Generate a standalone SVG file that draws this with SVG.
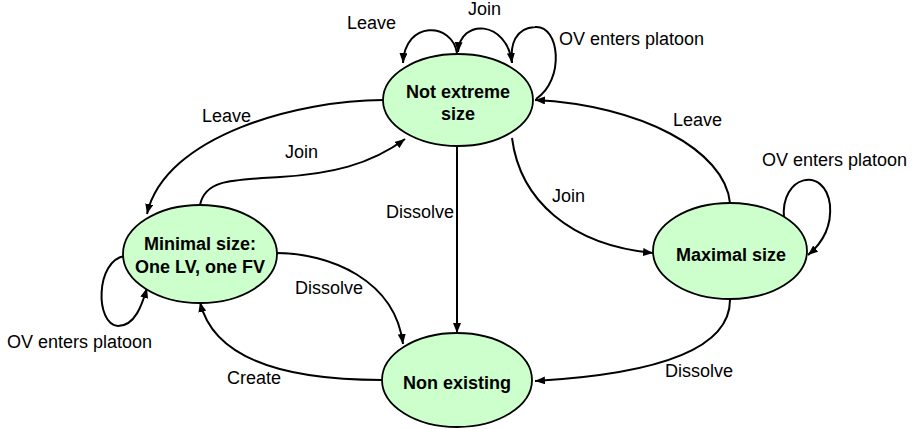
<svg xmlns="http://www.w3.org/2000/svg" width="915" height="429" viewBox="0 0 915 429">
<style>
.node{fill:#ccffcc;stroke:#000;stroke-width:1.8}
.edge{fill:none;stroke:#000;stroke-width:2;marker-end:url(#arr)}
.plain{fill:none;stroke:#000;stroke-width:2}
.nt{font-family:"Liberation Sans",Arial,sans-serif;font-size:18px;font-weight:bold;fill:#000;text-anchor:middle}
.lbl{font-family:"Liberation Sans",Arial,sans-serif;font-size:18px;fill:#000}
</style>
<defs>
<marker id="arr" viewBox="0 0 10 8" refX="10" refY="4" markerWidth="10" markerHeight="8" orient="auto" markerUnits="userSpaceOnUse">
<path d="M0,0 L10,4 L0,8 z" fill="#000"/>
</marker>
</defs>
<rect width="915" height="429" fill="#fff"/>
<g id="connectors">
<path class="edge" d="M457,53 C452,22 405,20 403,63"/>
<path class="edge" d="M512,63 C507,20 460,18 458,52"/>
<path class="edge" d="M536,99 C565,80 560,25 535,27 C515,28 510,45 512,63"/>
<path class="edge" d="M730,203 C725,150 640,105 535,100"/>
<path class="edge" d="M512,138 C520,200 570,245 653,253"/>
<path class="edge" d="M457,146 L457,333"/>
<path class="edge" d="M383,100 C300,100 165,135 147,214"/>
<path class="edge" d="M200,205 C205,180 230,180 280,177 C330,174 370,165 405,139"/>
<path class="edge" d="M276,253 C330,253 395,280 403,344"/>
<path class="edge" d="M382,380 C300,380 215,365 200,302"/>
<path class="edge" d="M730,300 C730,355 640,375 535,381"/>
<path class="edge" d="M784,218 C780,175 825,165 830,205 C832,230 820,245 808,255"/>
<path class="edge" d="M125,256 C95,260 95,325 118,326 C135,326 142,305 147,288"/>
</g>
<g id="edge-labels">
<text class="lbl" x="347" y="29">Leave</text>
<text class="lbl" x="468" y="15">Join</text>
<text class="lbl" x="559" y="45">OV enters platoon</text>
<text class="lbl" x="202" y="122">Leave</text>
<text class="lbl" x="285" y="158">Join</text>
<text class="lbl" x="673" y="126">Leave</text>
<text class="lbl" x="762" y="166">OV enters platoon</text>
<text class="lbl" x="552" y="202">Join</text>
<text class="lbl" x="386" y="218">Dissolve</text>
<text class="lbl" x="295" y="294">Dissolve</text>
<text class="lbl" x="7" y="348">OV enters platoon</text>
<text class="lbl" x="227" y="384">Create</text>
<text class="lbl" x="665" y="377">Dissolve</text>
</g>
<g id="node-not-extreme">
<ellipse class="node" cx="458" cy="100" rx="75" ry="46"/>
<text class="nt" x="458" y="98">Not extreme</text>
<text class="nt" x="458" y="120">size</text>
</g>
<g id="node-minimal">
<ellipse class="node" cx="200" cy="254" rx="77" ry="49"/>
<text class="nt" x="200" y="250">Minimal size:</text>
<text class="nt" x="200" y="273">One LV, one FV</text>
</g>
<g id="node-maximal">
<ellipse class="node" cx="730" cy="251" rx="77" ry="48"/>
<text class="nt" x="731" y="261">Maximal size</text>
</g>
<g id="node-non-existing">
<ellipse class="node" cx="457" cy="380" rx="75" ry="47"/>
<text class="nt" x="457" y="389">Non existing</text>
</g>
</svg>
